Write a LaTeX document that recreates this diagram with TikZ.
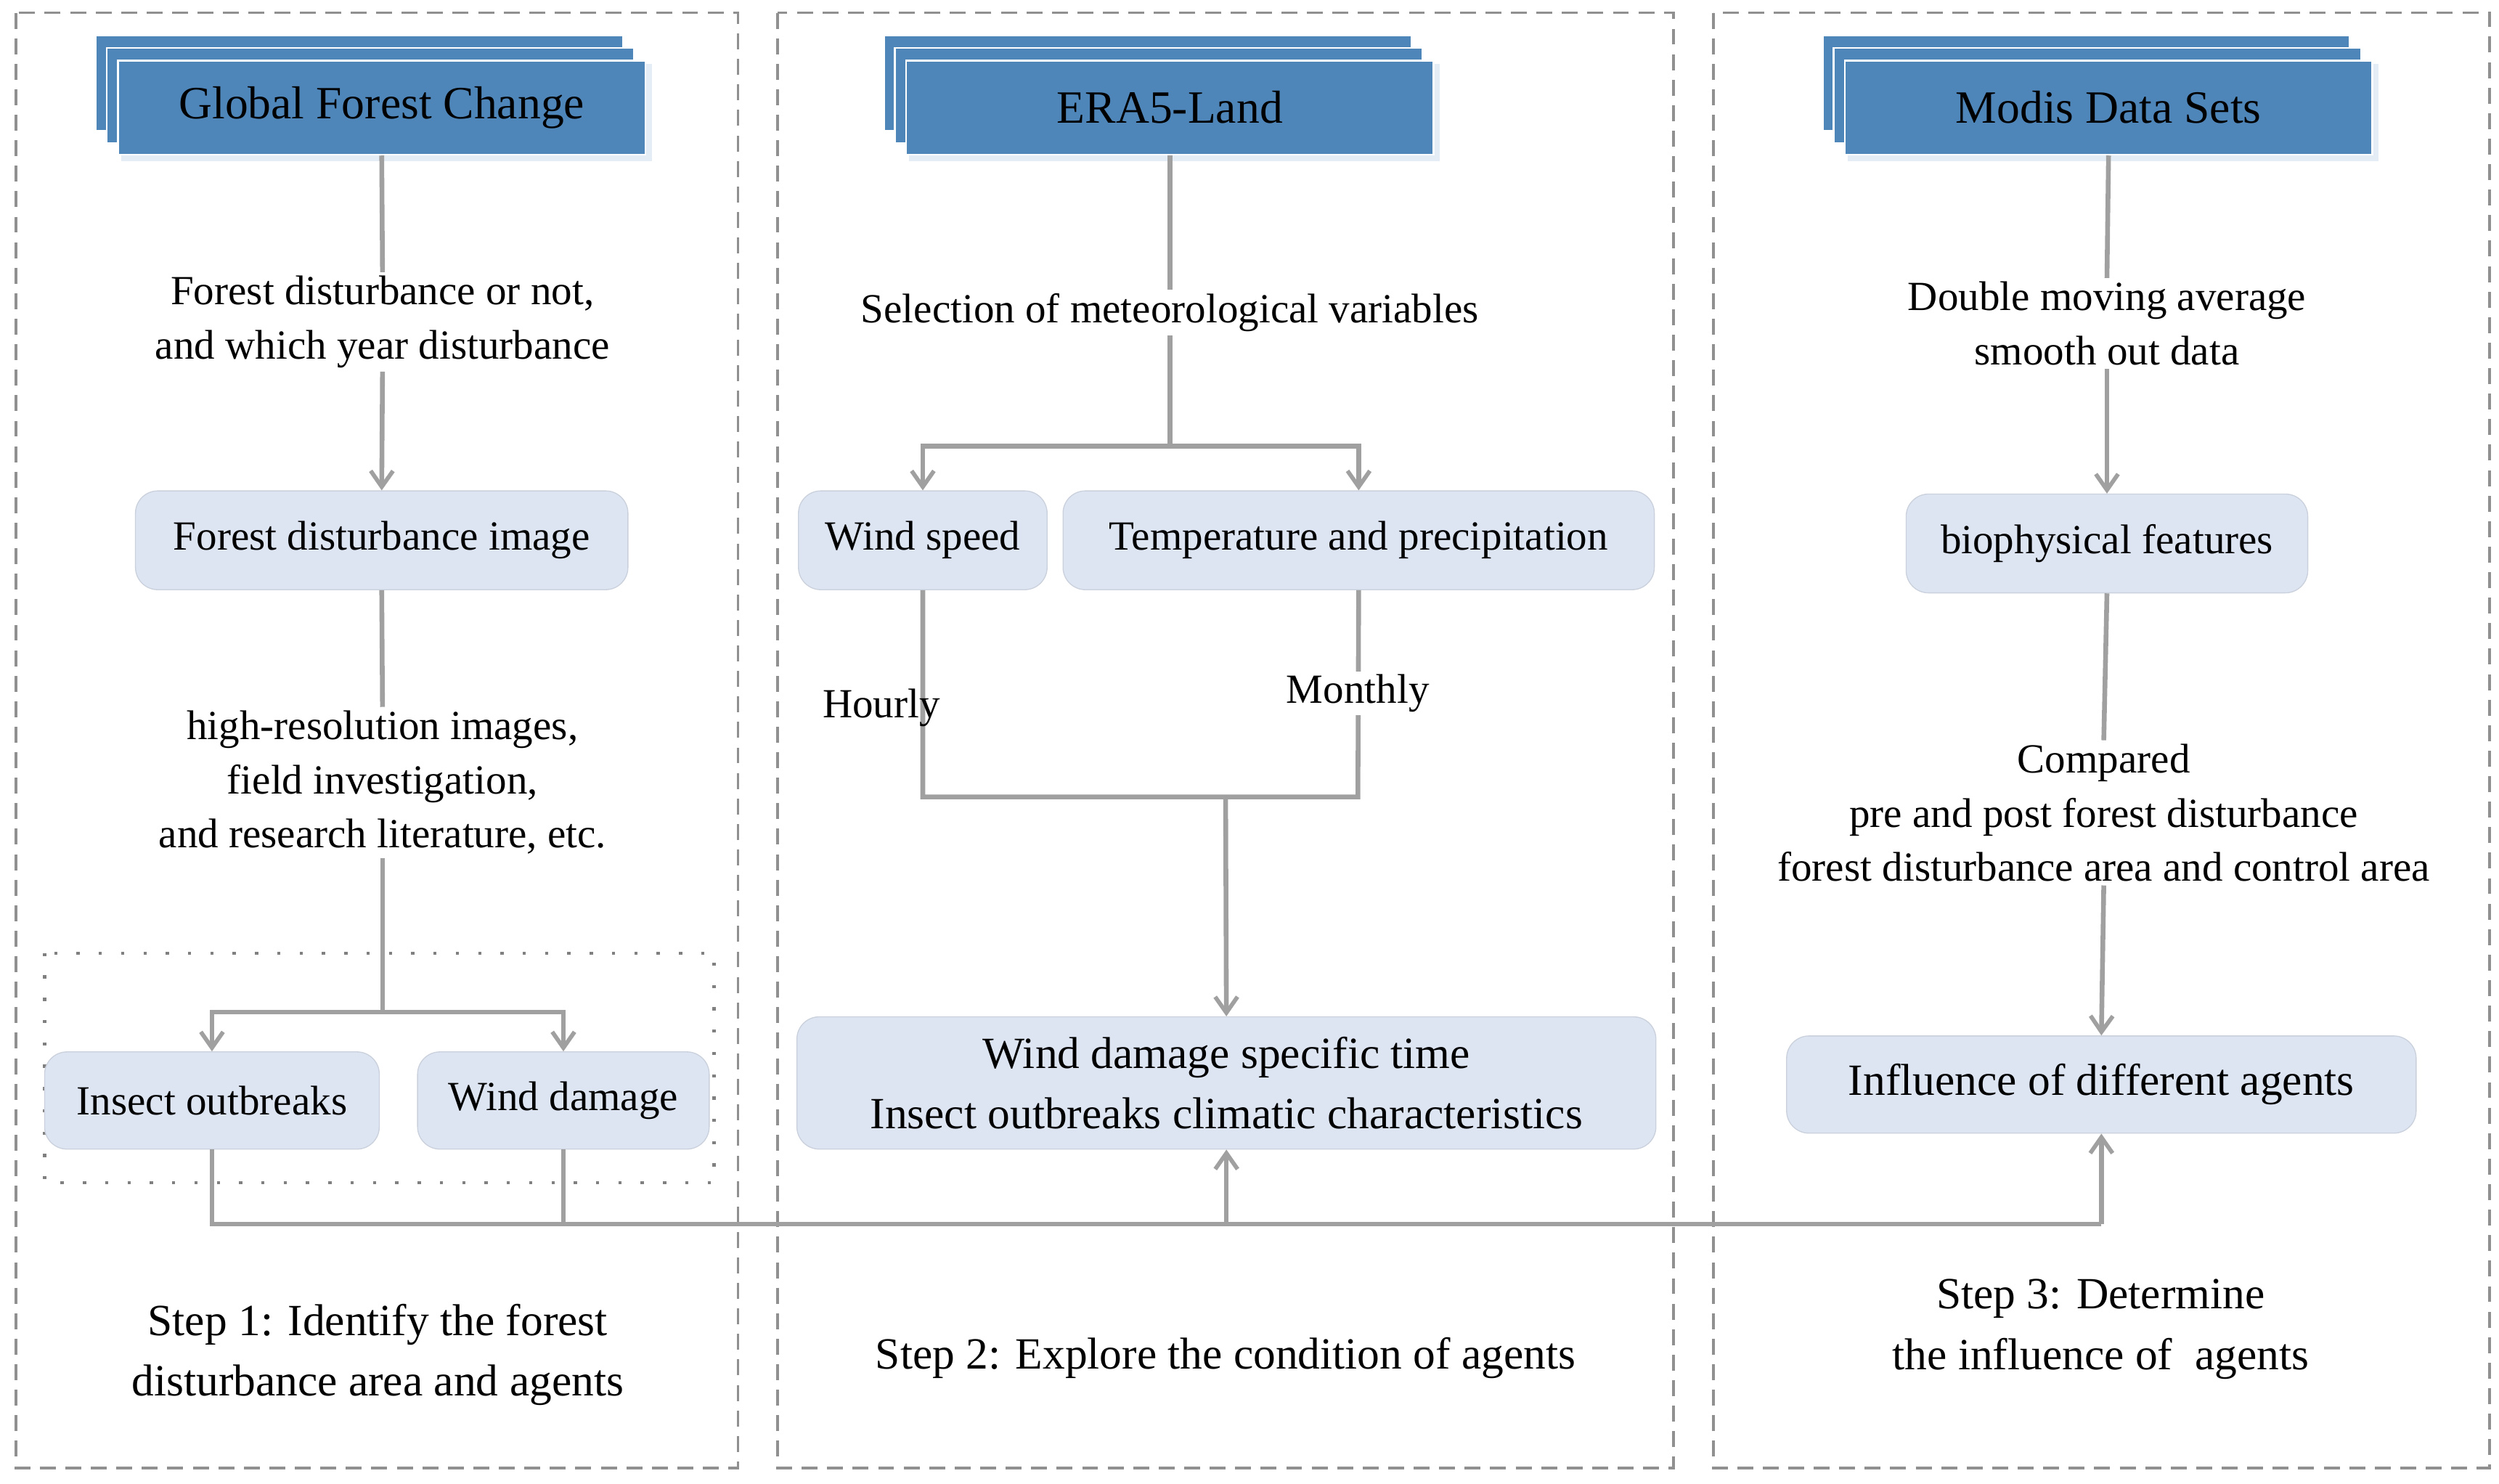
\documentclass[tikz,border=0pt]{standalone}
\usepackage{fontspec}
\setmainfont{Liberation Serif}
\usetikzlibrary{arrows.meta}
\definecolor{hdr}{HTML}{4F86BA}
\definecolor{bx}{HTML}{DDE5F3}
\definecolor{ln}{HTML}{A0A0A0}
\begin{document}
\begin{tikzpicture}[x=0.5pt,y=-0.5pt,
 panel/.style={draw=ln!90!black,dashed,line width=0.8pt,dash pattern=on 5pt off 3pt},
 hd/.style={fill=hdr,draw=white,line width=0.6pt,minimum width=165.5pt,minimum height=29.5pt,font=\fontsize{14.5}{16}\selectfont,inner sep=0pt},
 hb/.style={fill=hdr,draw=white,line width=0.6pt},
 rb/.style={fill=bx,draw=bx!80!gray,line width=0.3pt,rounded corners=7pt,minimum height=31pt,inner sep=0pt,font=\fontsize{13}{15}\selectfont},
 lab/.style={fill=white,align=center,inner sep=1pt,font=\fontsize{13}{17}\selectfont},
 st/.style={align=center,font=\fontsize{14}{19}\selectfont},
 c/.style={draw=ln,line width=1.5pt},
 a/.style={c,-{Straight Barb[length=5pt,width=7pt,line width=1.3pt]}}]
\useasboundingbox (0,0) rectangle (1568,930.7);
% panels
\draw[panel] (10,8) rectangle (463,921);
\draw[panel] (488,8) rectangle (1050,921);
\draw[panel] (1075,8) rectangle (1562,921);
% header stacks
\foreach \cx in {239.5,734,1323}{
 \draw[hb] (\cx-179.5,22) rectangle (\cx+151.5,82);
 \draw[hb] (\cx-172.5,30) rectangle (\cx+158.5,90);
 \fill[hdr!15] (\cx-163.5,40) rectangle (\cx+169.5,101);
}
\node[hd] (gfc) at (239.5,67.5) {Global Forest Change};
\node[hd] (era) at (734,67.5) {ERA5-Land};
\node[hd] (mod) at (1323,67.5) {Modis Data Sets};
% panel 1
\node[lab] (t1) at (240,202) {Forest disturbance or not,\\and which year disturbance};
\node[rb,minimum width=154.5pt] (fdi) at (239.5,339) {Forest disturbance image};
\node[lab] (t2) at (240,491) {high-resolution images,\\field investigation,\\and research literature, etc.};
\draw[dotted,line width=1pt,draw=gray,dash pattern=on 1pt off 6pt] (28,598) rectangle (448,742);
\node[rb,minimum width=105pt,minimum height=30.5pt] (ins) at (133,690.5) {Insect outbreaks};
\node[rb,minimum width=91.5pt,minimum height=30.5pt] (wd) at (353.5,690.5) {Wind damage};
\coordinate (j1) at (240,635);
\draw[c] (gfc.south) -- (t1.north);
\draw[a] (t1.south) -- (fdi.north);
\draw[c] (fdi.south) -- (t2.north);
\draw[c] (t2.south) -- (j1);
\draw[a] (j1) -| (ins.north);
\draw[a] (j1) -| (wd.north);
\node[st] (s1) at (237,850) {Step 1: Identify the forest\\disturbance area and agents};
% panel 2
\node[lab] (t3) at (734,196) {Selection of meteorological variables};
\node[rb,minimum width=78pt] (ws) at (579,339) {Wind speed};
\node[rb,minimum width=185.5pt] (tp) at (852.5,339) {Temperature and precipitation};
\coordinate (j2) at (734,280);
\draw[c] (era.south) -- (t3.north);
\draw[c] (t3.south) -- (j2);
\draw[a] (j2) -| (ws.north);
\draw[a] (j2) -| (tp.north);
\node[rb,minimum width=269.5pt,minimum height=41.5pt,align=center,font=\fontsize{14}{19}\selectfont] (wds) at (769.5,679.5) {Wind damage specific time\\Insect outbreaks climatic characteristics};
\coordinate (j3) at (769,500);
\draw[c] (ws.south) -- (579,500) -- (852,500) -- (tp.south);
\node[lab,fill=none] (hr) at (553,444) {Hourly};
\node[lab] (mo) at (852,435) {Monthly};
\draw[a] (j3) -- (wds.north);
\node[st] (s2) at (769,852) {Step 2: Explore the condition of agents};
% panel 3
\node[lab] (t4) at (1322,203) {Double moving average\\smooth out data};
\node[rb,minimum width=126pt] (bio) at (1322,341) {biophysical features};
\node[lab] (t5) at (1320,510) {Compared\\pre and post forest disturbance\\forest disturbance area and control area};
\node[rb,minimum width=197.5pt,minimum height=30.5pt,font=\fontsize{14}{16}\selectfont] (inf) at (1318.5,680.5) {Influence of different agents};
\draw[c] (mod.south) -- (t4.north);
\draw[a] (t4.south) -- (bio.north);
\draw[c] (bio.south) -- (t5.north);
\draw[a] (t5.south) -- (inf.north);
\node[st] (s3) at (1318,834) {Step 3: Determine\\the influence of\ \ agents};
% bottom bus
\coordinate (b1) at (133,768);
\coordinate (b2) at (353.5,768);
\coordinate (b3) at (769.5,768);
\coordinate (b4) at (1318.5,768);
\draw[c] (ins.south) -- (b1) -- (b4);
\draw[c] (wd.south) -- (b2);
\draw[a] (b3) -- (wds.south);
\draw[a] (b4) -- (inf.south);
\end{tikzpicture}
\end{document}
